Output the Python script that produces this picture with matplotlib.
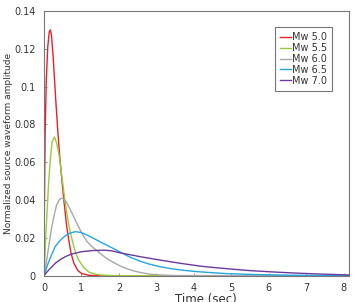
import numpy as np
import matplotlib.pyplot as plt

plt.rcParams['font.family'] = ['DejaVu Sans']

labels = ["Mw 5.0", "Mw 5.5", "Mw 6.0", "Mw 6.5", "Mw 7.0"]
colors = ["#e8202c", "#9acb3c", "#a8a8a8", "#26a6de", "#6b3a9e"]

# values (time in sec, amplitude)
t_50 = [0, 0.01, 0.03, 0.06, 0.1, 0.14, 0.17, 0.2, 0.24, 0.28, 0.32, 0.37, 0.42,
        0.48, 0.54, 0.6, 0.66, 0.72, 0.8, 0.9, 1.0, 1.2, 1.5, 2.0, 8.15]
v_50 = [0, 0.035, 0.075, 0.103, 0.121, 0.129, 0.130, 0.127, 0.117, 0.104, 0.091,
        0.076, 0.063, 0.050, 0.038, 0.027, 0.019, 0.012, 0.0065, 0.0028, 0.0012,
        0.0002, 0, 0, 0]

t_55 = [0, 0.02, 0.05, 0.08, 0.12, 0.17, 0.22, 0.28, 0.34, 0.41, 0.48, 0.55, 0.61,
        0.68, 0.75, 0.83, 0.92, 1.05, 1.19, 1.35, 1.5, 1.8, 2.2, 8.15]
v_55 = [0, 0.008, 0.022, 0.033, 0.048, 0.062, 0.071, 0.0734, 0.070, 0.063, 0.052,
        0.041, 0.033, 0.025, 0.019, 0.013, 0.0085, 0.0045, 0.002, 0.0009, 0.0004,
        0.0001, 0, 0]

t_60 = [0, 0.03, 0.07, 0.125, 0.2, 0.26, 0.33, 0.4, 0.46, 0.53, 0.6, 0.75, 0.88,
        1.01, 1.15, 1.28, 1.4, 1.55, 1.7, 1.81, 2.03, 2.2, 2.38, 2.6, 2.83, 3.1,
        3.5, 8.15]
v_60 = [0, 0.003, 0.008, 0.0154, 0.025, 0.031, 0.037, 0.040, 0.041, 0.0405, 0.039,
        0.033, 0.0275, 0.0225, 0.018, 0.0154, 0.0135, 0.011, 0.0088, 0.0075, 0.0052,
        0.0038, 0.0026, 0.0016, 0.0008, 0.0004, 0.0001, 0]

t_65 = [0, 0.05, 0.125, 0.2, 0.3, 0.4, 0.5, 0.6, 0.7, 0.84, 1.0, 1.15, 1.28, 1.49,
        1.81, 2.03, 2.3, 2.56, 2.8, 3.09, 3.4, 3.63, 4.0, 4.34, 4.8, 5.5, 6.2, 6.8,
        7.5, 8.15]
v_65 = [0, 0.003, 0.0074, 0.011, 0.0154, 0.018, 0.020, 0.0215, 0.0226, 0.0233,
        0.0228, 0.0215, 0.0202, 0.018, 0.0148, 0.0125, 0.0098, 0.0077, 0.0062,
        0.0048, 0.0037, 0.0031, 0.0023, 0.0018, 0.0012, 0.0007, 0.0004, 0.0002,
        0.0001, 0.00005]

t_70 = [0, 0.05, 0.125, 0.2, 0.3, 0.43, 0.57, 0.7, 0.83, 1.0, 1.28, 1.6, 1.8, 2.03,
        2.3, 2.56, 3.09, 3.63, 4.16, 4.5, 5.0, 5.5, 6.2, 6.83, 7.5, 8.15]
v_70 = [0, 0.0013, 0.003, 0.0045, 0.0066, 0.0085, 0.0101, 0.0112, 0.0119, 0.0127,
        0.0133, 0.0135, 0.0132, 0.0121, 0.0111, 0.0101, 0.0083, 0.0066, 0.0051,
        0.0044, 0.0035, 0.0027, 0.0019, 0.0013, 0.0008, 0.0004]

x_ticks = [0, 1, 2, 3, 4, 5, 6, 7, 8]
y_ticks = [0, 0.02, 0.04, 0.06, 0.08, 0.1, 0.12, 0.14]
y_ticklabels = ["0", "0.02", "0.04", "0.06", "0.08", "0.1", "0.12", "0.14"]

fig = plt.figure(figsize=(3.54, 3.02), dpi=100)
ax = fig.add_axes([0.1243, 0.087, 0.8627, 0.8766])

series = [(t_50, v_50), (t_55, v_55), (t_60, v_60), (t_65, v_65), (t_70, v_70)]
for (t, v), lab, c in zip(series, labels, colors):
    ax.plot(t, v, color=c, lw=1.0, label=lab)

ax.set_xlim(0, 8.15)
ax.set_ylim(0, 0.14)
ax.set_xticks(x_ticks)
ax.set_yticks(y_ticks)
ax.set_yticklabels(y_ticklabels)
ax.tick_params(direction='in', length=2, width=0.6, color='#888888',
               labelsize=7, labelcolor='#333333')
ax.tick_params(axis='y', pad=6)
ax.tick_params(axis='x', pad=5)
for s in ax.spines.values():
    s.set_color('#777777')
    s.set_linewidth(0.8)

ax.set_xlabel("Time (sec)", fontsize=8.5, color='#333333', va='top')
ax.xaxis.set_label_coords(0.53, -0.066)
ax.set_ylabel("Normalized source waveform amplitude", fontsize=6.5,
              color='#333333', va='center')
ax.yaxis.set_label_coords(-0.115, 0.5)

leg = ax.legend(loc='upper right', bbox_to_anchor=(0.944, 0.941), fontsize=7,
                handlelength=1.15, handletextpad=0.05, borderpad=0.55,
                labelspacing=0.1, fancybox=False, framealpha=1,
                borderaxespad=0)
leg.get_frame().set_edgecolor('#777777')
leg.get_frame().set_linewidth(0.8)
for txt in leg.get_texts():
    txt.set_color('#333333')

fig.savefig("out.png", dpi=100)
